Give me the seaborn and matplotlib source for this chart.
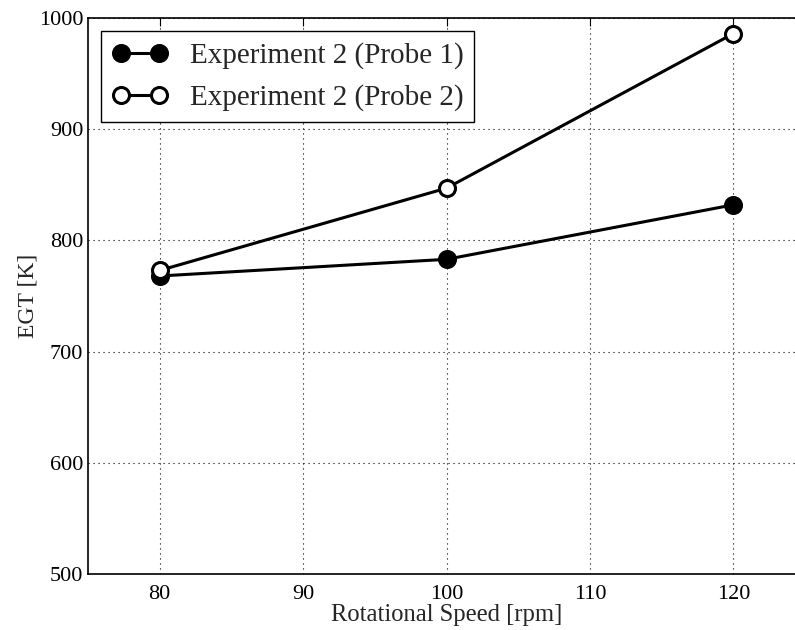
import matplotlib
matplotlib.use("Agg")
import matplotlib.pyplot as plt
import seaborn as sns
import pandas as pd

speed = [80, 100, 120]
probe1 = [768, 783, 832]
probe2 = [773, 847, 986]
labels = ["Experiment 2 (Probe 1)", "Experiment 2 (Probe 2)"]

sns.set_style("white")
plt.rcParams["font.family"] = ["Liberation Serif", "DejaVu Serif"]

fig = plt.figure(figsize=(7.95, 6.3), dpi=100)
# the axes run slightly past the right edge of the canvas
ax = fig.add_axes([0.1107, 0.0889, 0.902, 0.8825])

df = pd.DataFrame({"speed": speed * 2,
                   "egt": probe1 + probe2,
                   "series": [labels[0]] * 3 + [labels[1]] * 3})

for lab, face in zip(labels, ["black", "white"]):
    sub = df[df["series"] == lab]
    sns.lineplot(data=sub, x="speed", y="egt", ax=ax, color="black",
                 linewidth=2.2, marker="o", markersize=11.5,
                 markerfacecolor=face, markeredgecolor="black",
                 markeredgewidth=2.2, label=lab)

ax.set_xlim(75, 125)
ax.set_ylim(500, 1000)
ax.set_xticks([80, 90, 100, 110, 120])
ax.set_yticks([500, 600, 700, 800, 900, 1000])
ax.grid(True, color="black", linestyle=(0, (1, 3.5)), linewidth=0.8)
ax.tick_params(direction="in", length=6, width=0.8, top=True, right=True,
               labelsize=16, colors="black")
ax.tick_params(axis="x", pad=8)
for s in ax.spines.values():
    s.set_color("black")
    s.set_linewidth(1.2)

ax.set_xlabel("Rotational Speed [rpm]", fontsize=17.7, labelpad=0)
ax.set_ylabel("EGT [K]", fontsize=17, labelpad=0)

leg = ax.legend(loc="upper left", fontsize=21, frameon=True, fancybox=False,
                edgecolor="black", framealpha=1, numpoints=2,
                handlelength=1.9, borderpad=0.38, labelspacing=0.52,
                handletextpad=0.75, borderaxespad=0.45)
leg.get_frame().set_linewidth(1.0)

fig.savefig("out.png", dpi=100)
